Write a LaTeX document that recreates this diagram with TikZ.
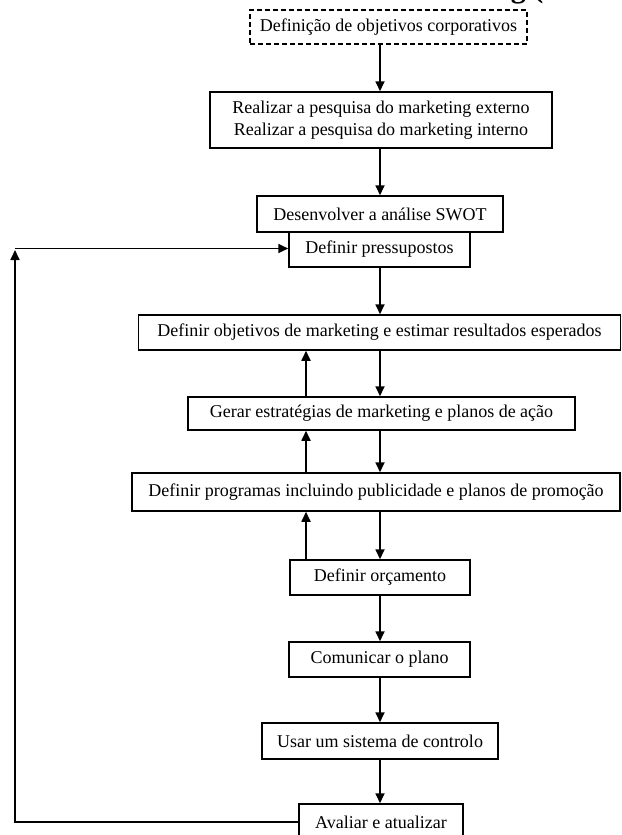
\documentclass[tikz,border=0pt]{standalone}
\usepackage{fontspec}
\setmainfont{Liberation Serif}
\usetikzlibrary{arrows.meta}

\begin{document}
\begin{tikzpicture}[x=1pt,y=-1pt,
  box/.style={draw,line width=1.5pt,inner sep=0pt,align=center,
    font=\fontsize{18}{21.5}\selectfont},
  dashbox/.style={box,line width=1.4pt,dash pattern=on 5pt off 3pt},
  flow/.style={line width=1.7pt,-{Triangle[length=10pt,width=9pt]}},
  plain/.style={line width=1.5pt}]
\useasboundingbox (0,0) rectangle (621,835);

% partly visible heading above the chart
\node[anchor=base east,font=\fontsize{30}{36}\selectfont\bfseries] (title) at (547,-2.5) {g (};

% process steps
\node[dashbox,minimum width=277pt,minimum height=34pt] (b1) at (388.5,27) {Definição de objetivos corporativos};
\node[box,minimum width=342pt,minimum height=56pt] (b2) at (381,120) {Realizar a pesquisa do marketing externo\\Realizar a pesquisa do marketing interno};
\node[box,minimum width=246pt,minimum height=36pt] (b3) at (380,214) {Desenvolver a análise SWOT};
\node[box,minimum width=181pt,minimum height=35pt] (b4) at (379.5,249.5) {Definir pressupostos};
\node[box,minimum width=482pt,minimum height=35pt] (b5) at (379.5,332.5) {Definir objetivos de marketing e estimar resultados esperados};
\node[box,minimum width=387pt,minimum height=33pt] (b6) at (381.5,413.5) {Gerar estratégias de marketing e planos de ação};
\node[box,minimum width=488pt,minimum height=38pt] (b7) at (376,492) {Definir programas incluindo publicidade e planos de promoção};
\node[box,minimum width=180pt,minimum height=35pt] (b8) at (380,577.5) {Definir orçamento};
\node[box,minimum width=181pt,minimum height=35pt] (b9) at (379.5,659.5) {Comunicar o plano};
\node[box,minimum width=236pt,minimum height=36pt] (b10) at (380,741) {Usar um sistema de controlo};
\node[box,minimum width=164pt,minimum height=36pt] (b11) at (381,822) {Avaliar e atualizar};

% vertical guides for the two arrow columns
\coordinate (down) at (380,0);
\coordinate (up) at (306,0);

% main downward flow
\draw[flow] (b1.south -| down) -- (b2.north -| down);
\draw[flow] (b2.south -| down) -- (b3.north -| down);
\draw[flow] (b4.south -| down) -- (b5.north -| down);
\draw[flow] (b5.south -| down) -- (b6.north -| down);
\draw[flow] (b6.south -| down) -- (b7.north -| down);
\draw[flow] (b7.south -| down) -- (b8.north -| down);
\draw[flow] (b8.south -| down) -- (b9.north -| down);
\draw[flow] (b9.south -| down) -- (b10.north -| down);
\draw[flow] (b10.south -| down) -- (b11.north -| down);

% feedback between planning steps
\draw[flow] (b6.north -| up) -- (b5.south -| up);
\draw[flow] (b7.north -| up) -- (b6.south -| up);
\draw[flow] (b8.north -| up) -- (b7.south -| up);

% review loop back to the assumptions
\coordinate (loopup) at (15,250);
\coordinate (loopcorner) at (15,248.5);
\draw[flow] (b11.west) -| (loopup);
\draw[flow] (loopcorner) -- (b4.west |- loopcorner);
\end{tikzpicture}
\end{document}
